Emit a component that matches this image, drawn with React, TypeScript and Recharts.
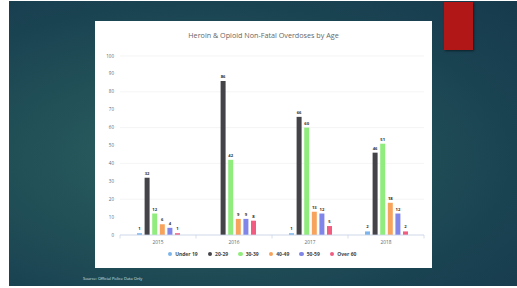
import React from 'react';
import { BarChart, Bar, XAxis, YAxis, CartesianGrid, Legend, LabelList } from 'recharts';

const years = ['2015', '2016', '2017', '2018'];
const under19 = [1, null, 1, 2];
const age20to29 = [32, 86, 66, 46];
const age30to39 = [12, 42, 60, 51];
const age40to49 = [6, 9, 13, 18];
const age50to59 = [4, 9, 12, 12];
const over60 = [1, 8, 5, 2];
const yTicks = [0, 10, 20, 30, 40, 50, 60, 70, 80, 90, 100];

const series = [
  { key: 'u19', name: 'Under 19', color: '#7cb5ec', values: under19 },
  { key: 'a20', name: '20-29', color: '#434348', values: age20to29 },
  { key: 'a30', name: '30-39', color: '#90ed7d', values: age30to39 },
  { key: 'a40', name: '40-49', color: '#f7a35c', values: age40to49 },
  { key: 'a50', name: '50-59', color: '#8085e9', values: age50to59 },
  { key: 'o60', name: 'Over 60', color: '#f15c80', values: over60 },
];

const chartData = years.map((year, i) => {
  const row: any = { year };
  series.forEach(s => { row[s.key] = s.values[i]; });
  return row;
});

const FONT = "'Open Sans', 'DejaVu Sans', sans-serif";

// category label plus boundary tick marks like highcharts
const YearTick = (props: any) => {
  const { x, y, payload, width, visibleTicksCount, index } = props;
  const band = width / visibleTicksCount;
  const left = x - band / 2;
  return (
    <g>
      <line x1={left} y1={y} x2={left} y2={y + 3.5} stroke="#ccd6eb" strokeWidth={0.8} />
      {index === visibleTicksCount - 1 && (
        <line x1={left + band} y1={y} x2={left + band} y2={y + 3.5} stroke="#ccd6eb" strokeWidth={0.8} />
      )}
      <text x={x} y={y + 8.5} textAnchor="middle" fill="#666" fontSize={4.8} fontFamily={FONT}>
        {payload.value}
      </text>
    </g>
  );
};

const LegendContent = () => (
  <div style={{ height: 19, paddingBottom: 9, boxSizing: 'border-box', display: 'flex', alignItems: 'center', justifyContent: 'center', gap: 10 }}>
    {series.map(s => (
      <div key={s.key} style={{ display: 'flex', alignItems: 'center', gap: 3 }}>
        <span style={{ width: 4.5, height: 4.5, borderRadius: '50%', background: s.color, display: 'inline-block' }} />
        <span style={{ fontSize: 5, fontWeight: 700, color: '#444', fontFamily: FONT, whiteSpace: 'nowrap' }}>{s.name}</span>
      </div>
    ))}
  </div>
);

export default function App() {
  return (
    <div style={{ position: 'fixed', left: 0, top: 0, width: 517, height: 288, background: '#fff', overflow: 'hidden' }}>
      {/* slide background */}
      <div style={{
        position: 'absolute', left: 9, top: 1, width: 508, height: 285,
        background: 'radial-gradient(ellipse at 38% 55%, #2c6264 0%, #235358 35%, #1a4352 70%, #163a4c 100%)',
      }} />
      {/* red accent */}
      <div style={{ position: 'absolute', left: 444, top: 2, width: 29, height: 48, background: '#b11717', boxShadow: '1px 1px 2px rgba(0,0,0,0.5)' }} />
      {/* chart panel */}
      <div style={{ position: 'absolute', left: 95, top: 21, width: 337, height: 247, background: '#fff' }}>
        <div style={{ position: 'absolute', left: 0, top: 9, width: 337, textAlign: 'center', fontSize: 7.2, color: '#666', fontFamily: FONT }}>
          Heroin &amp; Opioid Non-Fatal Overdoses by Age
        </div>
        <BarChart
          width={337}
          height={247}
          data={chartData}
          margin={{ top: 35, right: 8, left: 5, bottom: 0 }}
          barCategoryGap="20%"
          barGap={2.6}
        >
          <CartesianGrid vertical={false} stroke="#ececec" strokeWidth={0.6} />
          <XAxis
            dataKey="year"
            height={14}
            axisLine={{ stroke: '#ccd6eb', strokeWidth: 0.8 }}
            tickLine={false}
            tickSize={0}
            tickMargin={0}
            tick={<YearTick />}
            interval={0}
          />
          <YAxis
            width={20}
            domain={[0, 100]}
            ticks={yTicks}
            axisLine={false}
            tickLine={false}
            tickSize={0}
            tickMargin={6}
            tick={{ fill: '#666', fontSize: 4.5, fontFamily: FONT }}
          />
          <Legend verticalAlign="bottom" height={19} content={<LegendContent />} />
          {series.map(s => (
            <Bar key={s.key} dataKey={s.key} name={s.name} fill={s.color} barSize={5} isAnimationActive={false}>
              <LabelList dataKey={s.key} position="top" offset={3} fill="#333" fontSize={4.2} fontWeight={700} fontFamily={FONT} />
            </Bar>
          ))}
        </BarChart>
      </div>
      {/* source note */}
      <div style={{ position: 'absolute', left: 83, top: 276, fontSize: 4, color: '#d8e4e6', fontFamily: FONT, whiteSpace: 'nowrap' }}>
        Source: Official Police Data Only
      </div>
    </div>
  );
}
